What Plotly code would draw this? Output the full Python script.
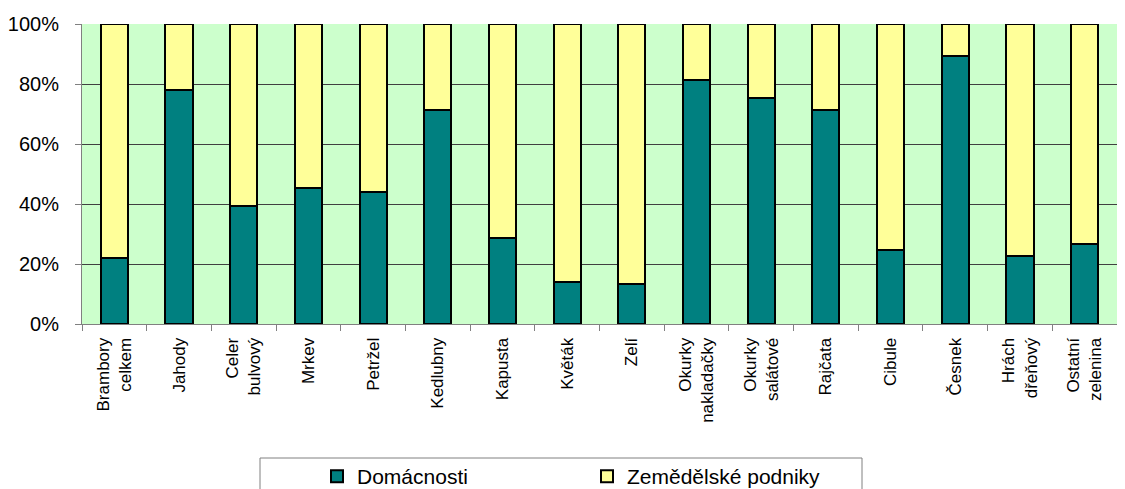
import plotly.graph_objects as go

categories = ["Brambory<br>celkem", "Jahody", "Celer<br>bulvový", "Mrkev", "Petržel", "Kedlubny",
              "Kapusta", "Květák", "Zelí", "Okurky<br>nakladačky", "Okurky<br>salátové", "Rajčata",
              "Cibule", "Česnek", "Hrách<br>dřeňový", "Ostatní<br>zelenina"]
domacnosti = [22.0, 78.0, 39.3, 45.3, 44.0, 71.3, 28.7, 14.0, 13.2, 81.3, 75.3, 71.3, 24.7, 89.3, 22.7, 26.6]
podniky = [round(100 - v, 1) for v in domacnosti]
y_ticks = [0, 20, 40, 60, 80, 100]
y_labels = ["0%", "20%", "40%", "60%", "80%", "100%"]

OFF = 8  # page body margin
W, H = 1125 - OFF, 489 - OFF
L, R, T, B = 82 - OFF, 8, 24 - OFF, 165
pw, ph = W - L - R, H - T - B

def px_x(p):
    return (p - OFF - L) / pw

def px_y(p):
    return (H - B - (p - OFF)) / ph

fig = go.Figure()
fig.add_trace(go.Bar(x=categories, y=domacnosti, name="Domácnosti",
                     marker=dict(color="#008080", line=dict(color="black", width=2))))
fig.add_trace(go.Bar(x=categories, y=podniky, name="Zemědělské podniky",
                     marker=dict(color="#FFFF99", line=dict(color="black", width=2))))

fig.add_shape(type="rect", xref="paper", yref="paper",
              x0=px_x(260), x1=px_x(862), y0=px_y(500), y1=px_y(458),
              line=dict(color="#808080", width=1), fillcolor="white", layer="below")

fig.update_layout(
    barmode="stack", bargap=0.58,
    width=W, height=H,
    margin=dict(l=L, r=R, t=T, b=B, autoexpand=False),
    plot_bgcolor="#CCFFCC", paper_bgcolor="white",
    font=dict(family="Arial, Liberation Sans", color="black"),
    showlegend=True,
    legend=dict(orientation="h", x=px_x(317), xanchor="left", y=px_y(456), yanchor="top",
                bgcolor="rgba(0,0,0,0)", borderwidth=0, font=dict(size=21),
                entrywidth=225, entrywidthmode="pixels", traceorder="normal"),
)
fig.update_xaxes(tickangle=-90, ticks="outside", tickson="boundaries", ticklen=6,
                 tickcolor="#808080", showline=True, linecolor="#808080",
                 tickfont=dict(size=17), showgrid=False, automargin=False,
                 ticklabelstandoff=6)
fig.update_yaxes(range=[0, 100], tickvals=y_ticks, ticktext=y_labels, ticks="outside",
                 ticklen=6, tickcolor="#808080", showline=True, linecolor="#808080",
                 gridcolor="#404040", gridwidth=1, tickfont=dict(size=20), zeroline=False,
                 ticklabelstandoff=12, automargin=False)

fig.write_html("out.html")
